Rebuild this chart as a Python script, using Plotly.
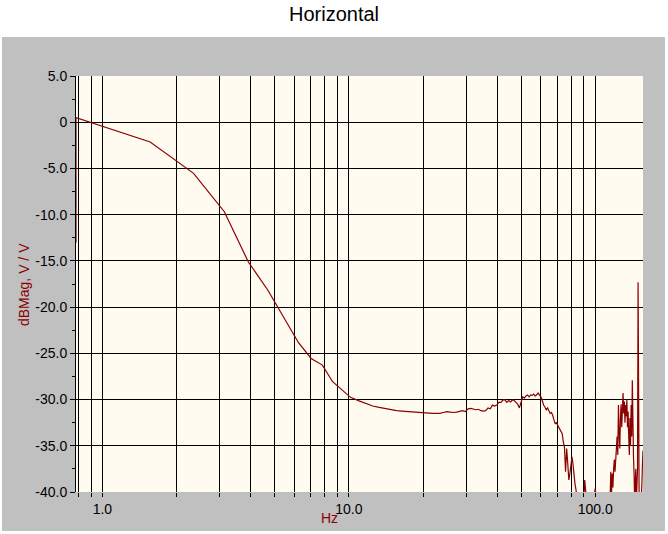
import plotly.graph_objects as go

# FFT bin spacing (Hz) and the bin magnitudes (dB)
bin_hz = 0.78125
dc_mag = -13.0
mag_db = [
    0.5, -2.14, -5.53, -9.68, -15.09, -18.15, -21.28, -23.85, -25.55, -26.27,
    -28.07, -28.97, -29.76, -30.12, -30.45, -30.7, -30.85, -31.0, -31.1, -31.2,
    -31.25, -31.3, -31.3, -31.35, -31.4, -31.4, -31.45, -31.5, -31.5, -31.5,
    -31.4, -31.3, -31.35, -31.4, -31.35, -31.3, -31.2, -31.3, -31.0, -30.95,
    -31.0, -31.1, -31.05, -31.2, -31.25, -31.2, -30.9, -31.0, -30.6, -30.7,
    -30.6, -30.3, -30.3, -30.05, -30.0, -30.3, -30.1, -30.25, -30.05, -30.1,
    -30.3, -30.5, -30.9, -30.3, -29.7, -29.85, -29.6, -29.5, -29.7, -29.5,
    -29.55, -29.4, -29.6, -29.5, -29.3, -29.5, -29.7, -30.1, -30.6, -30.8,
    -31.1, -30.9, -31.3, -31.5, -31.4, -31.7, -32.2, -32.6, -32.5, -32.75,
    -32.9, -33.1, -33.5, -33.7, -34.6, -35.1, -37.8, -35.3, -36.9, -38.7,
    -38.0, -37.1, -36.2, -37.0, -38.3, -39.2, -39.8, -41.0, -42.0, -41.5,
    -43.0, -41.0, -42.0, -40.5, -41.0, -38.7, -40.0, -41.0, -42.0, -41.0,
    -43.0, -42.0, -41.0, -42.0, -43.0, -41.0, -40.5, -39.6, -40.5, -42.0,
    -43.0, -44.0, -42.5, -45.0, -43.0, -44.5, -42.0, -43.5, -45.0, -44.0,
    -42.5, -43.0, -44.0, -42.0, -43.0, -41.5, -41.0, -37.8, -40.2, -38.0,
    -39.5, -37.5, -36.5, -37.8, -36.0, -35.1, -34.0, -36.0, -30.6, -33.5,
    -35.3, -32.0, -30.5, -33.0, -31.0, -29.3, -31.5, -30.2, -32.5, -30.6,
    -31.8, -30.0, -33.0, -31.3, -34.0, -36.0, -32.0, -35.0, -30.6, -34.0,
    -27.9, -34.0, -36.2, -38.0, -41.0, -39.0, -37.5, -41.0, -38.0, -37.6,
    -17.3, -41.0, -42.0, -41.0, -40.5, -42.0, -41.0, -39.0, -37.0, -35.5,
]

freqs = [bin_hz] + [bin_hz * k for k in range(1, len(mag_db) + 1)]
mags = [dc_mag] + mag_db

x_grid_vals = [0.8, 0.9, 1, 2, 3, 4, 5, 6, 7, 8, 9, 10,
               20, 30, 40, 50, 60, 70, 80, 90, 100]
x_label_map = {1: "1.0", 10: "10.0", 100: "100.0"}
x_tick_text = [x_label_map.get(v, "") for v in x_grid_vals]

y_tick_vals = [5, 0, -5, -10, -15, -20, -25, -30, -35, -40]
y_tick_text = ["5.0", "0", "-5.0", "-10.0", "-15.0", "-20.0", "-25.0",
               "-30.0", "-35.0", "-40.0"]

line_color = "#8B0000"
font_family = "Liberation Sans, Arial, sans-serif"

fig = go.Figure()
fig.add_trace(go.Scatter(
    x=freqs, y=mags, mode="lines",
    line=dict(color=line_color, width=1.2),
    showlegend=False, hoverinfo="skip",
))

L, R, T, B = 76, 25, 76, 42
W, H = 668, 534
pw, ph = W - L - R, H - T - B

def px_x(p):
    return (p - L) / pw

def px_y(p):
    return (H - B - p) / ph

fig.update_layout(
    width=W, height=H,
    margin=dict(l=L, r=R, t=T, b=B, pad=0),
    paper_bgcolor="white",
    plot_bgcolor="rgba(0,0,0,0)",
    font=dict(family=font_family, color="black", size=14),
    title=dict(text="Horizontal", x=0.5, xref="container", xanchor="center",
               y=1 - 14 / H, yref="container", yanchor="middle",
               font=dict(size=20, color="black", family=font_family)),
    shapes=[
        dict(type="rect", xref="paper", yref="paper",
             x0=px_x(2), x1=px_x(665), y0=px_y(531), y1=px_y(37),
             fillcolor="#C0C0C0", line=dict(width=0), layer="below"),
        dict(type="rect", xref="paper", yref="paper",
             x0=0, x1=1, y0=0, y1=1,
             fillcolor="#FFFBF0", line=dict(width=0), layer="below"),
    ],
    annotations=[
        dict(text="dBMag, V / V", xref="paper", yref="paper",
             x=px_x(24), y=px_y(285), textangle=-90,
             xanchor="center", yanchor="middle", showarrow=False,
             font=dict(size=14, color=line_color, family=font_family)),
        dict(text="Hz", xref="paper", yref="paper",
             x=px_x(329), y=px_y(518),
             xanchor="center", yanchor="middle", showarrow=False,
             font=dict(size=14, color=line_color, family=font_family)),
    ],
)

fig.update_xaxes(
    type="log",
    range=[-0.107210, 2.193820],
    tickmode="array", tickvals=x_grid_vals, ticktext=x_tick_text,
    showgrid=True, gridcolor="black", gridwidth=1,
    ticks="outside", ticklen=4, tickcolor="black", tickwidth=1,
    showline=False, zeroline=False,
    tickfont=dict(size=14, color="black", family=font_family),
)
fig.update_yaxes(
    range=[-40, 5],
    tickmode="array", tickvals=y_tick_vals, ticktext=y_tick_text,
    showgrid=True, gridcolor="black", gridwidth=1,
    ticks="outside", ticklen=5, tickcolor="black", tickwidth=1,
    showline=True, linecolor="black", linewidth=1,
    zeroline=False,
    minor=dict(tickvals=[2.5, -2.5, -7.5, -12.5, -17.5, -22.5, -27.5,
                         -32.5, -37.5],
               ticks="outside", ticklen=3, tickcolor="black", showgrid=False),
    tickfont=dict(size=14, color="black", family=font_family),
)

fig.write_html(
    "out.html",
    config={"displayModeBar": False},
    post_script="document.body.style.margin='0';document.body.style.overflow='hidden';",
)
